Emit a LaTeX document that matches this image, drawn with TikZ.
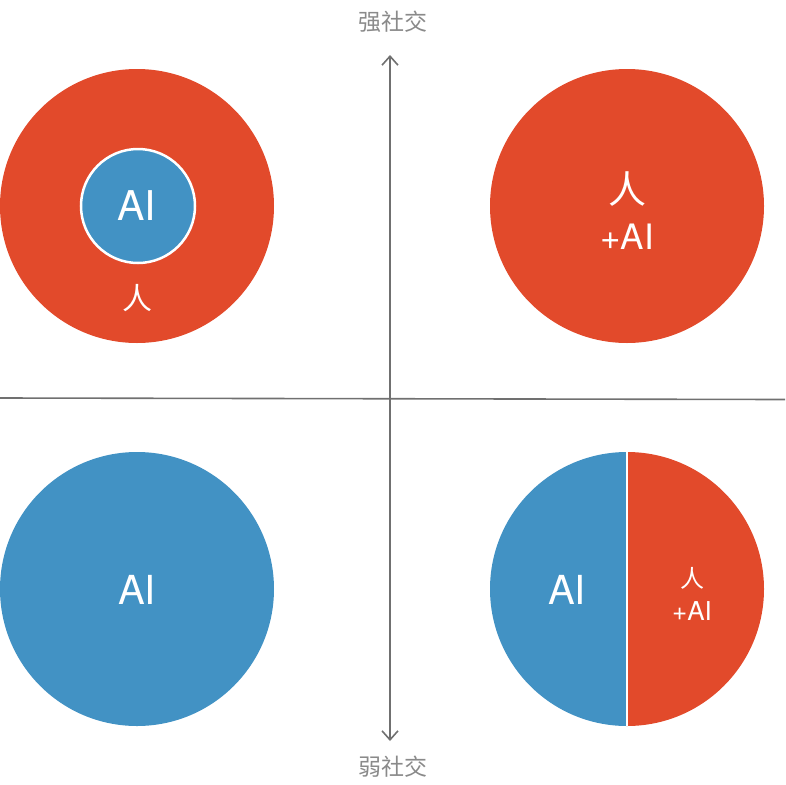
\documentclass[tikz,border=0pt]{standalone}
\usepackage{fontspec}
\setmainfont{TeX Gyre Heros}
\newfontfamily\cjk{Noto Sans CJK SC}
\usetikzlibrary{arrows.meta}
\definecolor{hred}{HTML}{E24A2B}
\definecolor{aiblue}{HTML}{4292C4}
\definecolor{axisgray}{HTML}{707070}
\definecolor{labgray}{HTML}{8A8A8A}
\begin{document}
\begin{tikzpicture}[x=1pt,y=-1pt,
  axisline/.style={draw=axisgray,line width=1.6pt},
  axislabel/.style={text=labgray,font=\cjk\fontsize{23}{25}\selectfont,inner sep=0},
  whitetxt/.style={text=white,inner sep=0,align=center}]
\useasboundingbox (0,0) rectangle (785,785);
% top-left
\fill[hred] (137,206) circle (137);
\filldraw[fill=aiblue,draw=white,line width=2.5pt] (138,206) circle (57);
\node[whitetxt,font=\fontsize{41}{44}\selectfont] (tlai) at (137,206) {AI};
\node[whitetxt,font=\cjk\fontsize{30}{32}\selectfont] (tlren) at (137,298) {人};
% top-right
\fill[hred] (627,206) circle (137);
\node[whitetxt,font=\cjk\fontsize{38}{40}\selectfont] (trren) at (627,189) {人};
\node[whitetxt,font=\fontsize{35}{38}\selectfont] (trai) at (627,237) {+AI};
% bottom-left
\fill[aiblue] (137,589) circle (137);
\node[whitetxt,font=\fontsize{40}{44}\selectfont] (blai) at (137,590) {AI};
% bottom-right
\begin{scope}
\clip (627,589) circle (137);
\fill[aiblue] (480,440) rectangle (627,740);
\fill[hred] (627,440) rectangle (780,740);
\end{scope}
\draw[white,line width=2.5pt] (627,452) -- (627,726);
\node[whitetxt,font=\fontsize{40}{44}\selectfont] (brai) at (567,590) {AI};
\node[whitetxt,font=\cjk\fontsize{24}{26}\selectfont] (brren) at (692,578) {人};
\node[whitetxt,font=\fontsize{26}{28}\selectfont] (brplus) at (692,611) {+AI};
% axes
\node[axislabel] (top) at (393,22) {强社交};
\node[axislabel] (bot) at (393,767) {弱社交};
\coordinate (atop) at (390,55);
\coordinate (abot) at (390,741);
\coordinate (hl) at (0,398);
\coordinate (hr) at (785,399.5);
\draw[axisline] (hl) -- (hr);
\draw[axisline,{Straight Barb[length=9pt,width=16pt,line width=1.6pt]}-{Straight Barb[length=9pt,width=16pt,line width=1.6pt]}] (atop) -- (abot);
\end{tikzpicture}
\end{document}
